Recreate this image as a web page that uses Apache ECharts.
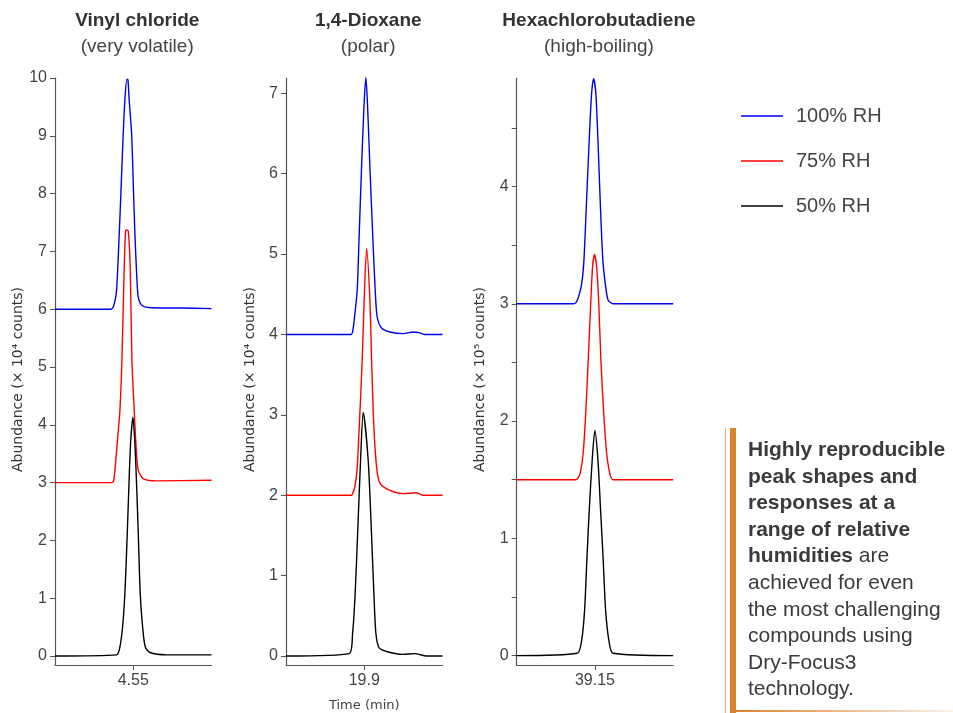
<!DOCTYPE html>
<html>
<head>
<meta charset="utf-8">
<script src="https://cdn.jsdelivr.net/npm/echarts@6/dist/echarts.min.js"></script>
<style>
html, body { margin: 0; padding: 0; background: #fff; }
#grafico { width: 953px; height: 713px; }
</style>
</head>
<body>
<div id="grafico"></div>
<script>
const vinyl100 = [[4.45, 6.00], [4.5215, 6.00], [4.5253, 6.07], [4.5287, 6.33], [4.5321, 7.31], [4.5342, 8.00],
    [4.5372, 9.04], [4.5393, 9.62], [4.5419, 9.98], [4.5432, 9.97], [4.5448, 9.62], [4.5479, 9.04], [4.5504, 8.00],
    [4.5521, 7.31], [4.5543, 6.62], [4.5563, 6.22], [4.5607, 6.07], [4.5691, 6.03], [4.6095, 6.02], [4.65, 6.01]];
const vinyl75 = [[4.45, 3.00], [4.5224, 3.00], [4.5247, 3.02], [4.5266, 3.22], [4.5295, 3.68], [4.5330, 4.26],
    [4.5355, 5.12], [4.5385, 6.74], [4.5402, 7.35], [4.5415, 7.37], [4.5436, 7.35], [4.5461, 6.74], [4.5483, 5.12],
    [4.5512, 4.26], [4.5534, 3.68], [4.5563, 3.22], [4.5627, 3.07], [4.5798, 3.03], [4.65, 3.04]];
const vinyl50 = [[4.45, 0.00], [4.5287, 0.02], [4.5330, 0.16], [4.5364, 0.51], [4.5393, 1.08], [4.5419, 1.95],
    [4.5441, 2.81], [4.5466, 3.68], [4.5496, 4.13], [4.5521, 3.68], [4.5547, 2.81], [4.5568, 1.95], [4.5589, 1.08],
    [4.5619, 0.51], [4.5653, 0.16], [4.5713, 0.06], [4.5926, 0.02], [4.65, 0.02]];

const dioxane100 = [[19.8, 4.00], [19.8826, 4.00], [19.8851, 4.03], [19.8881, 4.26], [19.8910, 4.55], [19.8936, 5.26],
    [19.8966, 6.09], [19.8996, 6.83], [19.9021, 7.20], [19.9043, 6.83], [19.9072, 6.09], [19.9107, 5.26],
    [19.9140, 4.55], [19.9165, 4.22], [19.9221, 4.08], [19.9327, 4.03], [19.9497, 4.01], [19.9625, 4.03],
    [19.9710, 4.02], [19.9774, 4.00], [20.0, 4.00]];
const dioxane75 = [[19.8, 2.00], [19.8839, 2.00], [19.8851, 2.02], [19.8881, 2.11], [19.8910, 2.35], [19.8936, 2.85],
    [19.8974, 3.68], [19.8999, 4.43], [19.9030, 5.07], [19.9072, 4.43], [19.9094, 3.68], [19.9123, 2.85],
    [19.9158, 2.35], [19.9200, 2.15], [19.9327, 2.06], [19.9497, 2.02], [19.9668, 2.03], [19.9752, 2.00], [20.0, 2.00]];
const dioxane50 = [[19.8, 0.00], [19.8808, 0.03], [19.8851, 0.28], [19.8884, 0.78], [19.8919, 1.61], [19.8953, 2.44],
    [19.8987, 3.03], [19.9050, 2.44], [19.9089, 1.61], [19.9123, 0.78], [19.9149, 0.28], [19.9191, 0.10],
    [19.9306, 0.05], [19.9497, 0.02], [19.9646, 0.03], [19.9796, 0.00], [20.0, 0.00]];

const hexa100 = [[39.05, 3.00], [39.1222, 3.00], [39.1257, 3.01], [39.1286, 3.05], [39.1330, 3.17], [39.1359, 3.37],
    [39.1393, 3.88], [39.1427, 4.40], [39.1457, 4.79], [39.1483, 4.92], [39.1512, 4.79], [39.1538, 4.40],
    [39.1567, 3.88], [39.1601, 3.37], [39.1636, 3.15], [39.1669, 3.03], [39.1733, 3.00], [39.25, 3.00]];
const hexa75 = [[39.05, 1.50], [39.1257, 1.50], [39.1308, 1.55], [39.1350, 1.73], [39.1384, 2.09], [39.1414, 2.52],
    [39.1448, 3.03], [39.1470, 3.32], [39.1496, 3.42], [39.1521, 3.32], [39.1547, 3.03], [39.1576, 2.52],
    [39.1610, 2.09], [39.1649, 1.73], [39.1691, 1.55], [39.1733, 1.50], [39.25, 1.50]];
const hexa50 = [[39.05, 0.00], [39.1273, 0.02], [39.1330, 0.13], [39.1368, 0.39], [39.1397, 0.82], [39.1427, 1.24],
    [39.1465, 1.67], [39.1499, 1.92], [39.1538, 1.67], [39.1572, 1.24], [39.1605, 0.82], [39.1636, 0.39],
    [39.1678, 0.13], [39.1733, 0.02], [39.25, 0.00]];

const compuestos = ["Vinyl chloride", "1,4-Dioxane", "Hexachlorobutadiene"];
const subtitulos = ["(very volatile)", "(polar)", "(high-boiling)"];
const series100 = [vinyl100, dioxane100, hexa100];
const series75 = [vinyl75, dioxane75, hexa75];
const series50 = [vinyl50, dioxane50, hexa50];
const tiemposRetencion = [4.55, 19.9, 39.15];
const rangosTiempo = [[4.45, 4.65], [19.8, 20.0], [39.05, 39.25]];
const rangosAbundancia = [[-0.156, 10], [-0.112, 7.19], [-0.08, 4.925]];
const etiquetasY = [[0, 1, 2, 3, 4, 5, 6, 7, 8, 9, 10], [0, 1, 2, 3, 4, 5, 6, 7], [0, 1, 2, 3, 4]];
const marcasY = [[0, 1, 2, 3, 4, 5, 6, 7, 8, 9, 10], [0, 1, 2, 3, 4, 5, 6, 7], [0, 0.5, 1, 1.5, 2, 2.5, 3, 3.5, 4, 4.5]];
const unidadesY = ["Abundance (× 10⁴ counts)", "Abundance (× 10⁴ counts)", "Abundance (× 10⁵ counts)"];
const nombresRH = ["100% RH", "75% RH", "50% RH"];
const coloresRH = ["#0000ee", "#ff0000", "#000000"];

const fuente = "Liberation Sans, Arial, sans-serif";
const fuenteAncha = "DejaVu Sans, sans-serif";
const gridLeft = [55, 286, 516.7];
const gridWidth = 156.5;

const contenedor = document.getElementById("grafico");
const miGrafico = echarts.init(contenedor, null, { renderer: "canvas" });

const grids = [];
const xAxes = [];
const yAxes = [];
const series = [];
const graficos = [];

for (let i = 0; i < 3; i++) {
    grids.push({ left: gridLeft[i], top: 78, width: gridWidth, height: 587, outerBoundsMode: "none", containLabel: false });

    xAxes.push({
        type: "value",
        gridIndex: i,
        min: rangosTiempo[i][0],
        max: rangosTiempo[i][1],
        name: i === 1 ? "Time (min)" : "",
        nameLocation: "middle",
        nameGap: 34,
        nameTextStyle: { fontFamily: fuenteAncha, fontSize: 13, color: "#444" },
        axisLine: { onZero: false, lineStyle: { color: "#555", width: 1.2 } },
        axisTick: { show: true, length: 5, customValues: [tiemposRetencion[i]], lineStyle: { color: "#555" } },
        axisLabel: { customValues: [tiemposRetencion[i]], fontFamily: fuente, fontSize: 16, color: "#444", margin: 8 },
        splitLine: { show: false }
    });

    yAxes.push({
        type: "value",
        gridIndex: i,
        min: rangosAbundancia[i][0],
        max: rangosAbundancia[i][1],
        name: unidadesY[i],
        nameLocation: "middle",
        nameGap: 29,
        nameTextStyle: { fontFamily: fuenteAncha, fontSize: 14, color: "#333", padding: [0, 16, 0, 0] },
        axisLine: { show: true, onZero: false, lineStyle: { color: "#555", width: 1.2 } },
        axisTick: { show: true, length: 5, customValues: marcasY[i], lineStyle: { color: "#555" } },
        axisLabel: { customValues: etiquetasY[i], fontFamily: fuente, fontSize: 16, color: "#444", margin: 8 },
        splitLine: { show: false }
    });

    const datos = [series100[i], series75[i], series50[i]];
    for (let k = 0; k < 3; k++) {
        series.push({
            name: nombresRH[k],
            type: "line",
            xAxisIndex: i,
            yAxisIndex: i,
            data: datos[k],
            symbol: "none",
            showSymbol: false,
            smooth: 0.25,
            z: 3 + k,
            color: coloresRH[k],
            lineStyle: { color: coloresRH[k], width: 1.4 }
        });
    }

    const centro = gridLeft[i] + gridWidth / 2 + 4;
    graficos.push({
        type: "text", x: centro, y: 21,
        style: { text: compuestos[i], fill: "#333", font: "bold 19px " + fuente, align: "center", verticalAlign: "middle" }
    });
    graficos.push({
        type: "text", x: centro, y: 47,
        style: { text: subtitulos[i], fill: "#444", font: "19px " + fuente, align: "center", verticalAlign: "middle" }
    });
}

// recuadro de texto con barra naranja
graficos.push({ type: "rect", shape: { x: 725, y: 428, width: 1, height: 285 }, style: { fill: "#f0b27a" } });
graficos.push({ type: "rect", shape: { x: 730, y: 428, width: 6, height: 285 }, style: { fill: "#dd8330" } });
graficos.push({
    type: "rect", shape: { x: 736, y: 710, width: 217, height: 2 },
    style: {
        fill: new echarts.graphic.LinearGradient(0, 0, 1, 0, [
            { offset: 0, color: "#dd8330" }, { offset: 1, color: "rgba(221,131,48,0.1)" }
        ])
    }
});
graficos.push({
    type: "text", x: 748, y: 437,
    style: {
        text: "{b|Highly reproducible}\n{b|peak shapes and}\n{b|responses at a}\n{b|range of relative}\n{b|humidities} are\nachieved for even\nthe most challenging\ncompounds using\nDry-Focus3\ntechnology.",
        fill: "#3a3a3a",
        font: "21px " + fuente,
        lineHeight: 26.6,
        rich: { b: { fontWeight: "bold", fontSize: 21, fontFamily: fuente, fill: "#3a3a3a", lineHeight: 26.6 } }
    }
});

const opciones = {
    backgroundColor: "#fff",
    animation: false,
    grid: grids,
    xAxis: xAxes,
    yAxis: yAxes,
    legend: {
        data: nombresRH,
        orient: "vertical",
        left: 741,
        top: 106,
        icon: "rect",
        itemWidth: 42,
        itemHeight: 1.6,
        itemGap: 25,
        padding: 0,
        textStyle: { fontFamily: fuente, fontSize: 20, lineHeight: 20, color: "#444", padding: [0, 0, 0, 8] }
    },
    series: series,
    graphic: graficos
};

miGrafico.setOption(opciones);
</script>
</body>
</html>
